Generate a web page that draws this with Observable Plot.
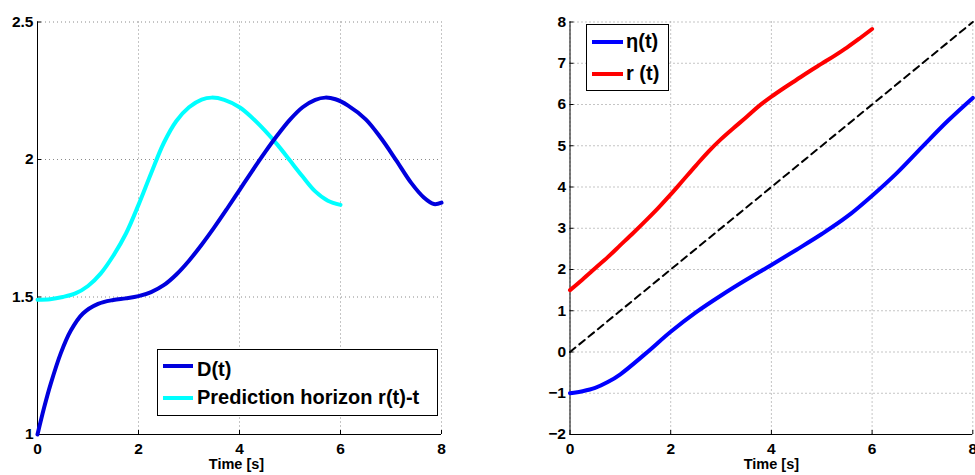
<!DOCTYPE html>
<html><head><meta charset="utf-8">
<script src="https://cdn.jsdelivr.net/npm/d3@7"></script>
<script src="https://cdn.jsdelivr.net/npm/@observablehq/plot@0.6"></script>
<style>
html,body{margin:0;padding:0;background:#fff;width:975px;height:475px;overflow:hidden;}
#wrap{position:relative;width:975px;height:475px;overflow:hidden;}
.panel{position:absolute;top:0;}
.box{position:absolute;background:#fff;border:1px solid #000;box-sizing:border-box;}
.sw{position:absolute;height:4px;}
.lt{position:absolute;white-space:pre;line-height:1;font-family:"Liberation Sans",Arial,Helvetica,sans-serif;font-weight:bold;font-size:20px;color:#000;}
</style></head><body><div id="wrap"></div>
<script>
// ---- Left panel data ----
const xTicks = [0, 2, 4, 6, 8];
const yTicksLeft = [1, 1.5, 2, 2.5];
const tD = [0, 0.13, 0.26, 0.46, 0.66, 0.9, 1.2, 1.5, 1.75, 2.0, 2.25, 2.5, 2.75, 3.0, 3.25, 3.5, 3.75, 4.0, 4.25, 4.5, 4.75, 5.0, 5.25, 5.5, 5.7, 5.9, 6.15, 6.5, 6.8, 7.1, 7.4, 7.65, 7.85, 8.0];
const vD = [1.0, 1.097, 1.183, 1.295, 1.378, 1.44, 1.475, 1.489, 1.495, 1.503, 1.518, 1.543, 1.582, 1.632, 1.69, 1.753, 1.82, 1.889, 1.958, 2.025, 2.088, 2.145, 2.19, 2.217, 2.225, 2.219, 2.196, 2.146, 2.078, 1.998, 1.915, 1.862, 1.838, 1.843];
const tP = [0, 0.25, 0.5, 0.75, 1.0, 1.25, 1.5, 1.75, 2.0, 2.25, 2.5, 2.75, 3.0, 3.25, 3.45, 3.7, 4.0, 4.25, 4.5, 4.75, 5.0, 5.25, 5.5, 5.75, 6.0];
const vP = [1.49, 1.492, 1.5, 1.513, 1.54, 1.585, 1.65, 1.73, 1.835, 1.95, 2.06, 2.14, 2.19, 2.218, 2.225, 2.217, 2.19, 2.152, 2.106, 2.054, 1.996, 1.938, 1.884, 1.85, 1.835];
const leftLabels = ["D(t)", "Prediction horizon r(t)-t"];

// ---- Right panel data ----
const yTicksRight = [-2, -1, 0, 1, 2, 3, 4, 5, 6, 7, 8];
const tEta = [0, 0.25, 0.5, 0.75, 1.0, 1.5, 2.0, 2.5, 3.0, 3.5, 4.0, 4.5, 5.0, 5.5, 6.0, 6.5, 7.0, 7.5, 8.0];
const vEta = [-1.0, -0.95, -0.87, -0.73, -0.54, -0.04, 0.49, 0.96, 1.37, 1.75, 2.11, 2.48, 2.86, 3.28, 3.79, 4.35, 4.98, 5.6, 6.16];
const tR = [0, 0.25, 0.5, 0.75, 1.0, 1.25, 1.5, 1.75, 2.0, 2.25, 2.5, 2.75, 3.0, 3.25, 3.5, 3.75, 4.0, 4.25, 4.5, 4.75, 5.0, 5.25, 5.5, 5.75, 6.0];
const vR = [1.5, 1.76, 2.03, 2.3, 2.59, 2.88, 3.18, 3.49, 3.82, 4.17, 4.52, 4.86, 5.16, 5.43, 5.69, 5.96, 6.19, 6.4, 6.6, 6.8, 6.99, 7.18, 7.38, 7.6, 7.83];
const tDiag = [0, 8];
const vDiag = [0, 8];
const rightLabels = ["\u03b7(t)", "r (t)"];

const FONT = '"Liberation Sans", Arial, Helvetica, sans-serif';
const fmt = d => d < 0 ? "\u2212" + (-d) : String(d);
const gridStyle = {stroke: "#8a8a8a", strokeOpacity: 1, strokeWidth: 1, strokeDasharray: "1,3"};

function makePanel({width, marginLeft, marginRight, yDomain, yTicks, yBase, lines, labelDx}) {
  const marginTop = 21.5, marginBottom = 41, height = 475;
  const plotH = height - marginTop - marginBottom;
  const plotW = width - marginLeft - marginRight;
  return Plot.plot({
    width, height, marginLeft, marginRight, marginTop, marginBottom,
    style: {fontFamily: FONT, fontSize: "15px", fontWeight: "bold", color: "#000", background: "transparent", overflow: "visible", maxWidth: "none"},
    x: {domain: [0, 8]},
    y: {domain: yDomain},
    marks: [
      Plot.gridX(xTicks, gridStyle),
      Plot.gridY(yTicks, gridStyle),
      Plot.ruleX([0], {stroke: "#000", strokeWidth: 1}),
      Plot.ruleY([yBase], {stroke: "#000", strokeWidth: 1}),
      Plot.tickX(xTicks, {x: d => d, stroke: "#000", insetTop: plotH - 4}),
      Plot.tickY(yTicks, {y: d => d, stroke: "#000", insetRight: plotW - 4}),
      Plot.axisX(xTicks, {tickSize: 0, tickPadding: 8, tickFormat: fmt, label: null, fontSize: 15.5, fontWeight: "bold"}),
      Plot.axisY(yTicks, {tickSize: 0, tickPadding: 4, tickFormat: fmt, label: null, fontSize: 15.5, fontWeight: "bold"}),
      Plot.text(["Time [s]"], {frameAnchor: "bottom", dy: 34, dx: labelDx, fontSize: 14.5, fontWeight: "bold", fill: "#000"}),
      ...lines
    ]
  });
}

const wrap = document.getElementById("wrap");

const left = makePanel({
  width: 487, marginLeft: 37, marginRight: 46,
  yDomain: [1, 2.5], yTicks: yTicksLeft, yBase: 1, labelDx: -3,
  lines: [
    Plot.line(tP, {x: tP, y: vP, stroke: "#00ffff", strokeWidth: 4, curve: "catmull-rom"}),
    Plot.line(tD, {x: tD, y: vD, stroke: "#0000dd", strokeWidth: 4, curve: "catmull-rom"})
  ]
});
left.classList.add("panel"); left.style.left = "0px";
wrap.appendChild(left);

const right = makePanel({
  width: 487, marginLeft: 81.5, marginRight: 2.7,
  yDomain: [-2, 8], yTicks: yTicksRight, yBase: -2, labelDx: 0,
  lines: [
    Plot.line(tDiag, {x: tDiag, y: vDiag, stroke: "#000", strokeWidth: 2, strokeDasharray: "7,5"}),
    Plot.line(tEta, {x: tEta, y: vEta, stroke: "#0000ff", strokeWidth: 4, curve: "catmull-rom"}),
    Plot.line(tR, {x: tR, y: vR, stroke: "#ff0000", strokeWidth: 4, curve: "catmull-rom"})
  ]
});
right.classList.add("panel"); right.style.left = "488px";
wrap.appendChild(right);

// ---- Legends (HTML overlays) ----
function legend(box, items) {
  const b = document.createElement("div");
  b.className = "box";
  Object.assign(b.style, {left: box.x + "px", top: box.y + "px", width: box.w + "px", height: box.h + "px"});
  wrap.appendChild(b);
  for (const it of items) {
    const s = document.createElement("div");
    s.className = "sw";
    Object.assign(s.style, {left: it.sx + "px", top: (it.sy - 2) + "px", width: it.sw + "px", background: it.color});
    wrap.appendChild(s);
    const t = document.createElement("div");
    t.className = "lt";
    t.textContent = it.label;
    Object.assign(t.style, {left: it.tx + "px", top: it.ty + "px"});
    wrap.appendChild(t);
  }
}
legend({x: 157, y: 349, w: 281, h: 67}, [
  {label: leftLabels[0], color: "#0000dd", sx: 163, sy: 366, sw: 30, tx: 197, ty: 359},
  {label: leftLabels[1], color: "#00ffff", sx: 163, sy: 398, sw: 30, tx: 197, ty: 387}
]);
legend({x: 586, y: 24, w: 83, h: 67}, [
  {label: rightLabels[0], color: "#0000ff", sx: 592, sy: 42, sw: 31, tx: 626, ty: 31},
  {label: rightLabels[1], color: "#ff0000", sx: 592, sy: 74, sw: 31, tx: 626, ty: 62.5}
]);
</script>
</body></html>
